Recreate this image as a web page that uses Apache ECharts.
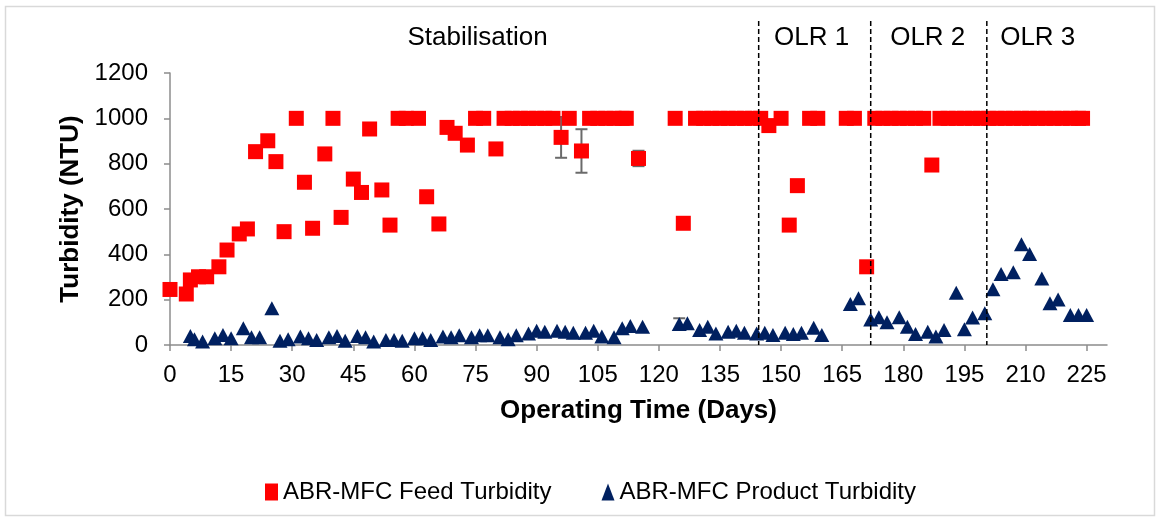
<!DOCTYPE html>
<html>
<head>
<meta charset="utf-8">
<title>ABR-MFC Turbidity</title>
<script src="https://cdn.jsdelivr.net/npm/echarts@6/dist/echarts.min.js"></script>
<style>
  html, body { margin: 0; padding: 0; background: #fff; }
  #chart { width: 1157px; height: 520px; }
</style>
</head>
<body>
<div id="chart"></div>
<script>
// Feed turbidity (NTU) by operating day
const feedDays = [0, 4, 5, 7, 9, 12, 14, 17, 19, 21, 24, 26, 28, 31, 33, 35, 38, 40, 42, 45, 47, 49,
  52, 54, 56, 58, 61, 63, 66, 68, 70, 73, 75, 77, 80, 82, 84, 86, 88, 90, 92, 94, 96, 98, 101,
  103, 105, 107, 109, 111, 112, 115, 124, 126, 129, 131, 133, 135, 137, 139, 141, 143, 145, 147,
  150, 152, 154, 157, 159, 166, 168, 171, 173, 175, 177, 179, 181, 183, 185, 187, 189, 191, 193,
  195, 197, 199, 201, 203, 205, 207, 209, 211, 213, 215, 217, 219, 221, 223, 224];
const feedValues = [245, 225, 287, 301, 301, 345, 419, 490, 512, 853, 901, 809, 500, 1000, 718, 515,
  843, 1000, 563, 732, 673, 953, 684, 529, 1000, 1000, 1000, 654, 534, 960, 934, 882, 1000, 1000,
  865, 1000, 1000, 1000, 1000, 1000, 1000, 1000, 916, 1000, 856, 1000, 1000, 1000, 1000, 1000,
  1000, 823, 1000, 537, 1000, 1000, 1000, 1000, 1000, 1000, 1000, 1000, 1000, 968, 1000, 529, 703,
  1000, 1000, 1000, 1000, 345, 1000, 1000, 1000, 1000, 1000, 1000, 1000, 794, 1000, 1000, 1000,
  1000, 1000, 1000, 1000, 1000, 1000, 1000, 1000, 1000, 1000, 1000, 1000, 1000, 1000, 1000, 1000];

// Product turbidity (NTU) by operating day
const productDays = [5, 6, 8, 11, 13, 15, 18, 20, 22, 25, 27, 29, 32, 34, 36, 39, 41, 43, 46, 48,
  50, 53, 55, 57, 60, 62, 64, 67, 69, 71, 74, 76, 78, 81, 83, 85, 88, 90, 92, 95, 97, 99, 102,
  104, 106, 109, 111, 113, 116, 125, 127, 130, 132, 134, 137, 139, 141, 144, 146, 148, 151, 153,
  155, 158, 160, 167, 169, 172, 174, 176, 179, 181, 183, 186, 188, 190, 193, 195, 197, 200, 202,
  204, 207, 209, 211, 214, 216, 218, 221, 223, 225];
const productValues = [40, 25, 15, 30, 44, 30, 74, 34, 34, 162, 19, 25, 37, 30, 22, 34, 40, 19, 40,
  34, 15, 22, 22, 19, 30, 30, 22, 37, 34, 43, 34, 43, 43, 34, 25, 43, 51, 63, 59, 63, 59, 54, 54,
  63, 37, 34, 74, 84, 81, 93, 96, 66, 81, 51, 59, 63, 54, 51, 54, 44, 54, 48, 54, 76, 44, 181,
  206, 113, 122, 100, 122, 81, 48, 59, 37, 66, 231, 69, 121, 140, 246, 313, 321, 445, 401, 293,
  184, 201, 132, 132, 132];

// Standard deviation half-widths for the replicated samples
const feedErrDays = [33, 96, 101, 115];
const feedErrHalf = [20, 90, 96, 34];
const productErrDays = [125];
const productErrHalf = [25];

// Organic loading rate phase boundaries and phase captions
const phaseBounds = [144.5, 172, 200.5];
const phaseNames = ['Stabilisation', 'OLR 1', 'OLR 2', 'OLR 3'];
const phaseLabelDays = [75.5, 157.5, 186, 213];

// Axis ticks
const xTicks = [0, 15, 30, 45, 60, 75, 90, 105, 120, 135, 150, 165, 180, 195, 210, 225];
const yTicks = [0, 200, 400, 600, 800, 1000, 1200];

const FONT = '"Liberation Sans", Arial, sans-serif';
const FEED_COLOR = '#ff0000';
const PRODUCT_COLOR = '#002060';
const AXIS_COLOR = '#8c8c8c';

const pairs = (xs, ys) => xs.map((x, i) => [x, ys[i]]);
const valueAt = (days, values, d) => values[days.indexOf(d)];

const feedErr = feedErrDays.map((d, i) => [d, valueAt(feedDays, feedValues, d), feedErrHalf[i]]);
const productErr = productErrDays.map((d, i) => [d, valueAt(productDays, productValues, d), productErrHalf[i]]);

function renderErrorBar(params, api) {
  const x = api.value(0), v = api.value(1), e = api.value(2);
  const top = api.coord([x, v + e]);
  const bot = api.coord([x, v - e]);
  const cap = 6;
  const style = { stroke: '#6a6a6a', lineWidth: 2 };
  return {
    type: 'group',
    children: [
      { type: 'line', shape: { x1: top[0], y1: top[1], x2: bot[0], y2: bot[1] }, style },
      { type: 'line', shape: { x1: top[0] - cap, y1: top[1], x2: top[0] + cap, y2: top[1] }, style },
      { type: 'line', shape: { x1: bot[0] - cap, y1: bot[1], x2: bot[0] + cap, y2: bot[1] }, style }
    ]
  };
}

const chart = echarts.init(document.getElementById('chart'), null, { renderer: 'canvas' });

const option = {
  animation: false,
  backgroundColor: '#ffffff',
  textStyle: { fontFamily: FONT },
  grid: { left: 170, right: 50, top: 73, bottom: 175 },
  legend: {
    data: [
      { name: 'ABR-MFC Feed Turbidity', icon: 'rect' },
      { name: 'ABR-MFC Product Turbidity', icon: 'triangle' }
    ],
    left: 260,
    top: 475,
    itemWidth: 13,
    itemHeight: 17,
    itemGap: 50,
    textStyle: { fontFamily: FONT, fontSize: 24, color: '#000', lineHeight: 24 }
  },
  xAxis: {
    type: 'value',
    min: 0,
    max: 230,
    interval: 15,
    name: 'Operating Time (Days)',
    nameLocation: 'middle',
    nameGap: 53,
    nameTextStyle: { fontFamily: FONT, fontSize: 26, fontWeight: 'bold', color: '#000' },
    axisLine: { show: true, onZero: false, lineStyle: { color: AXIS_COLOR, width: 1.5 } },
    axisTick: { show: true, customValues: xTicks, length: 6, lineStyle: { color: AXIS_COLOR, width: 1.5 } },
    axisLabel: { customValues: xTicks, margin: 18, fontFamily: FONT, fontSize: 24, color: '#000',
      formatter: v => String(v) },
    splitLine: { show: false }
  },
  yAxis: {
    type: 'value',
    min: 0,
    max: 1200,
    interval: 200,
    name: 'Turbidity (NTU)',
    nameLocation: 'middle',
    nameGap: 72,
    nameTextStyle: { fontFamily: FONT, fontSize: 26, fontWeight: 'bold', color: '#000' },
    axisLine: { show: true, lineStyle: { color: AXIS_COLOR, width: 1.5 } },
    axisTick: { show: true, customValues: yTicks, length: 6, lineStyle: { color: AXIS_COLOR, width: 1.5 } },
    axisLabel: { customValues: yTicks, margin: 22, fontFamily: FONT, fontSize: 24, color: '#000',
      formatter: v => String(v) },
    splitLine: { show: false }
  },
  series: [
    {
      name: 'feed-error',
      type: 'custom',
      renderItem: renderErrorBar,
      data: feedErr,
      encode: { x: 0, y: 1 },
      z: 1,
      silent: true
    },
    {
      name: 'product-error',
      type: 'custom',
      renderItem: renderErrorBar,
      data: productErr,
      encode: { x: 0, y: 1 },
      z: 1,
      silent: true
    },
    {
      name: 'ABR-MFC Feed Turbidity',
      type: 'scatter',
      symbol: 'rect',
      symbolSize: 15,
      itemStyle: { color: FEED_COLOR, opacity: 1 },
      data: pairs(feedDays, feedValues),
      z: 3
    },
    {
      name: 'ABR-MFC Product Turbidity',
      type: 'scatter',
      symbol: 'triangle',
      symbolSize: [15, 14],
      itemStyle: { color: PRODUCT_COLOR, opacity: 1 },
      data: pairs(productDays, productValues),
      z: 3
    },
    {
      // dashed phase dividers, running from above the plot down to the x axis
      name: 'phase-dividers',
      type: 'custom',
      clip: false,
      silent: true,
      data: phaseBounds.map(d => [d, 0]),
      encode: { x: 0, y: 1 },
      z: 4,
      renderItem(params, api) {
        const x = api.coord([api.value(0), 0])[0];
        const bottom = api.coord([api.value(0), 0])[1];
        const top = params.coordSys.y - 52;
        return {
          type: 'line',
          shape: { x1: x, y1: top, x2: x, y2: bottom },
          style: { stroke: '#000', lineWidth: 1.5, lineDash: [5, 3] }
        };
      }
    },
    {
      // phase captions along the top
      name: 'phase-captions',
      type: 'custom',
      clip: false,
      silent: true,
      data: phaseLabelDays.map((d, i) => [d, 0, i]),
      encode: { x: 0, y: 1 },
      z: 4,
      renderItem(params, api) {
        const x = api.coord([api.value(0), 0])[0];
        return {
          type: 'text',
          style: {
            x: x,
            y: params.coordSys.y - 35,
            text: phaseNames[api.value(2)],
            fill: '#000',
            font: '26px ' + FONT,
            align: 'center',
            verticalAlign: 'middle'
          }
        };
      }
    }
  ],
  graphic: [
    {
      type: 'rect',
      shape: { x: 5.5, y: 6.5, width: 1149, height: 509 },
      style: { fill: null, stroke: '#d9d9d9', lineWidth: 1.5 },
      silent: true,
      z: -1
    }
  ]
};

chart.setOption(option);
</script>
</body>
</html>
